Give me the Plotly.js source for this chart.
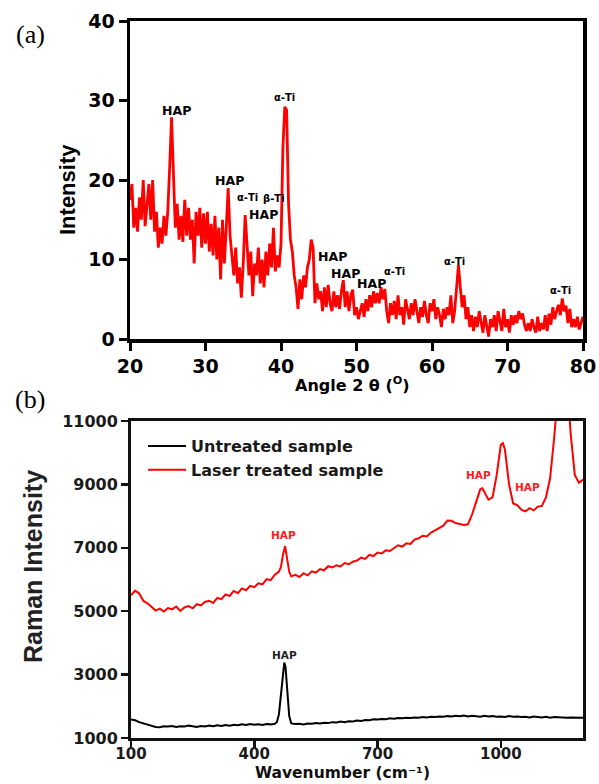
<!DOCTYPE html>
<html>
<head>
<meta charset="utf-8">
<script src="https://cdn.plot.ly/plotly-3.0.1.min.js"></script>
<style>html,body{margin:0;padding:0;background:#fff;}#chart{width:599px;height:784px;}</style>
</head>
<body>
<div id="chart"></div>
<script>
// ---------- (a) XRD data ----------
const xrdStart = 20;
const xrdStep = 0.25;
const xrdIntensity = [
  17.5, 19.5, 14.0, 16.5,
  13.5, 17.8, 15.0, 20.0,
  14.2, 17.0, 19.5, 15.0,
  20.0, 13.5, 16.0, 11.5,
  14.0, 12.0, 15.5, 13.0,
  16.0, 21.5, 27.9, 21.0,
  14.0, 17.0, 12.5, 15.5,
  12.2, 17.5, 13.0, 16.5,
  12.5, 15.0, 9.5, 16.0,
  13.0, 16.5, 11.5, 15.8,
  12.0, 16.0, 11.0, 14.5,
  10.5, 15.5, 10.0, 14.0,
  7.5, 15.0, 9.5, 14.0,
  19.0, 13.0, 10.5, 8.0,
  11.5, 7.0, 9.0, 5.2,
  9.5, 15.6, 12.0, 8.0,
  11.0, 5.4, 9.5, 8.0,
  11.5, 7.0, 10.0, 6.5,
  11.0, 8.0, 12.0, 9.0,
  14.0, 8.5, 10.5, 9.0,
  12.0, 24.0, 29.2, 28.8,
  17.0, 12.5, 11.0, 8.0,
  6.5, 3.8, 7.5, 5.0,
  8.0, 6.5, 9.0, 10.0,
  12.5, 11.5, 4.5, 7.0,
  5.0, 6.0, 3.5, 6.5,
  4.0, 6.8, 4.5, 3.5,
  6.0, 4.0, 5.5, 3.8,
  6.0, 7.4, 4.0, 6.0,
  3.5, 5.5, 6.2, 3.0,
  4.0, 2.5, 3.5, 4.5,
  2.8, 5.0, 3.5, 5.5,
  4.0, 6.0, 4.5, 5.8,
  4.5, 6.5, 5.0, 6.3,
  3.5, 2.0, 4.5, 3.0,
  4.8, 2.5, 5.5, 3.0,
  4.0, 1.8, 5.0, 3.5,
  2.5, 4.5, 3.0, 5.0,
  3.5, 2.0, 4.0, 2.8,
  4.8, 3.0, 2.0, 4.5,
  3.5, 5.0, 2.5, 4.0,
  3.0, 1.5, 3.8, 2.5,
  4.0, 3.0, 5.5, 2.0,
  3.5, 6.0, 9.3, 6.5,
  4.0, 5.5, 2.5, 4.0,
  1.5, 3.0, 1.0, 2.8,
  1.5, 3.5, 2.0, 0.8,
  3.0, 1.5, 0.3, 2.5,
  1.5, 3.0, 1.0, 3.5,
  2.0, 1.0, 3.8, 1.5,
  2.5, 0.8, 3.0, 1.8,
  3.0, 2.0, 3.5, 2.5,
  3.2, 1.8, 1.0, 2.0,
  1.0, 2.5, 1.5, 0.8,
  2.8, 1.0, 2.0, 1.2,
  3.0, 1.0, 3.2, 1.8,
  4.0, 2.5, 3.5, 4.3,
  3.0, 5.1, 3.5, 4.2,
  2.0, 3.8, 1.5, 2.5,
  1.5, 2.8, 1.2, 2.0,
  2.8
];
const xrdAngle = xrdIntensity.map((_, i) => xrdStart + i * xrdStep);

const xrdLabelText = ["HAP", "α-Ti", "HAP", "α-Ti", "β-Ti", "HAP", "HAP", "HAP", "HAP", "α-Ti", "α-Ti", "α-Ti"];
const xrdLabelX    = [26.1, 40.45, 33.2, 35.5, 39.1, 37.7, 46.8, 48.55, 51.96, 54.97, 63.03, 76.97];
const xrdLabelY    = [28.7, 30.4, 20.0, 17.8, 17.7, 15.7, 10.35, 8.26, 7.0, 8.47, 9.73, 6.08];

// ---------- (b) Raman data ----------
const ramanUntreatedX = [100,110,120,130,140,150,160,170,180,190,200,210,220,230,240,250,260,270,280,290,300,310,320,330,340,350,360,370,380,390,400,410,420,430,440,450,455,460,465,470,473,476,480,485,490,500,510,520,530,540,550,560,570,580,590,600,610,620,630,640,650,660,670,680,690,700,710,720,730,740,750,760,770,780,790,800,810,820,830,840,850,860,870,880,890,900,910,920,930,940,950,960,970,980,990,1000,1010,1020,1030,1040,1050,1060,1070,1080,1090,1100,1110,1120,1130,1140,1150,1160,1170,1180,1190,1200];
const ramanUntreatedY = [1580,1560,1500,1460,1420,1390,1350,1340,1370,1360,1380,1350,1370,1360,1390,1370,1350,1380,1360,1390,1370,1400,1380,1410,1390,1420,1400,1430,1410,1440,1420,1430,1410,1440,1430,1450,1500,1750,2400,3200,3380,3250,2500,1700,1460,1440,1450,1430,1460,1450,1470,1460,1480,1470,1500,1490,1520,1500,1530,1520,1550,1540,1570,1560,1590,1580,1600,1590,1620,1610,1630,1620,1640,1630,1650,1640,1660,1650,1670,1660,1680,1670,1690,1680,1700,1690,1710,1680,1700,1690,1670,1700,1680,1690,1670,1680,1660,1690,1670,1680,1660,1670,1650,1680,1660,1650,1670,1640,1660,1650,1660,1640,1650,1640,1650,1640];

const ramanLaserX = [100,110,120,130,140,150,160,170,180,190,200,210,220,230,240,250,260,270,280,290,300,310,320,330,340,350,360,370,380,390,400,410,420,430,440,450,460,465,470,475,480,485,490,500,510,520,530,540,550,560,570,580,590,600,610,620,630,640,650,660,670,680,690,700,710,720,730,740,750,760,770,780,790,800,810,820,830,840,850,860,870,880,890,900,910,920,930,940,950,955,960,970,980,990,1000,1005,1010,1020,1030,1040,1050,1060,1070,1080,1090,1100,1110,1120,1130,1140,1150,1160,1170,1180,1190,1200];
const ramanLaserY = [5500,5650,5560,5330,5250,5120,5020,5080,4990,5100,5060,5150,5010,5120,5160,5090,5220,5180,5290,5330,5260,5420,5380,5530,5480,5640,5570,5720,5660,5800,5760,5880,5850,6010,5980,6150,6250,6400,6800,7050,6600,6250,6100,6150,6080,6200,6130,6260,6220,6330,6290,6420,6380,6450,6410,6520,6480,6560,6600,6690,6650,6780,6740,6850,6820,6920,6900,6990,7080,7040,7140,7120,7260,7300,7380,7360,7480,7550,7620,7700,7860,7850,7780,7760,7720,7740,8050,8450,8850,8880,8750,8520,8600,9300,10250,10300,10100,9000,8400,8350,8200,8150,8250,8180,8300,8320,8600,9200,10500,12500,13500,12500,10600,9300,9050,9150];

const ramanLabelText = ["HAP", "HAP", "HAP", "HAP"];
const ramanLabelX    = [471, 946, 1064, 473];
const ramanLabelY    = [7414, 9298, 8929, 3619];
const ramanLabelColor = ["#ff1a1a", "#ff1a1a", "#ff1a1a", "#222222"];

// ---------- styling ----------
const wideBold = "DejaVu Sans, Verdana, sans-serif";
const arialBold = "Liberation Sans, Arial, sans-serif";

const traces = [
  { x: xrdAngle, y: xrdIntensity, xaxis: "x", yaxis: "y", type: "scatter", mode: "lines",
    line: { color: "#ff0000", width: 2.8 }, showlegend: false, hoverinfo: "skip" },
  { x: ramanUntreatedX, y: ramanUntreatedY, xaxis: "x2", yaxis: "y2", type: "scatter", mode: "lines",
    name: "Untreated sample", line: { color: "#000000", width: 2 } },
  { x: ramanLaserX, y: ramanLaserY, xaxis: "x2", yaxis: "y2", type: "scatter", mode: "lines",
    name: "Laser treated sample", line: { color: "#ff0000", width: 2 } }
];

const annotations = [];
xrdLabelText.forEach((t, i) => {
  const small = t !== "HAP";
  annotations.push({ x: xrdLabelX[i], y: xrdLabelY[i], xref: "x", yref: "y", text: t, showarrow: false,
    xanchor: "center", yanchor: "middle",
    font: { family: wideBold, size: small ? 10 : 12.5, color: "#000", weight: "bold" } });
});
ramanLabelText.forEach((t, i) => {
  annotations.push({ x: ramanLabelX[i], y: ramanLabelY[i], xref: "x2", yref: "y2", text: t, showarrow: false,
    xanchor: "center", yanchor: "middle",
    font: { family: wideBold, size: 10.5, color: ramanLabelColor[i], weight: "bold" } });
});
// axis titles and panel labels
annotations.push(
  { x: 68/599, y: 1 - 190/784, xref: "paper", yref: "paper", text: "Intensity", textangle: -90, showarrow: false,
    xanchor: "center", yanchor: "middle", font: { family: arialBold, size: 22, color: "#000", weight: "bold" } },
  { x: 352/599, y: 1 - 384/784, xref: "paper", yref: "paper", text: "Angle 2 θ (<sup>O</sup>)", showarrow: false,
    xanchor: "center", yanchor: "middle", font: { family: wideBold, size: 16, color: "#000", weight: "bold" } },
  { x: 33/599, y: 1 - 567/784, xref: "paper", yref: "paper", text: "Raman Intensity", textangle: -90, showarrow: false,
    xanchor: "center", yanchor: "middle", font: { family: arialBold, size: 25, color: "#222", weight: "bold" } },
  { x: 342/599, y: 1/784, xref: "paper", yref: "paper", text: "Wavenumber (cm⁻¹)", showarrow: false,
    xanchor: "center", yanchor: "bottom", borderpad: 0, font: { family: wideBold, size: 15.5, color: "#111", weight: "bold" } },
  { x: 30/599, y: 1 - 35/784, xref: "paper", yref: "paper", text: "(a)", showarrow: false,
    xanchor: "center", yanchor: "middle", font: { family: "Liberation Serif, Times New Roman, serif", size: 26, color: "#000" } },
  { x: 30/599, y: 1 - 399/784, xref: "paper", yref: "paper", text: "(b)", showarrow: false,
    xanchor: "center", yanchor: "middle", font: { family: "Liberation Serif, Times New Roman, serif", size: 26, color: "#000" } }
);

const axisA = {
  showline: true, linecolor: "#000", linewidth: 3.5, mirror: true,
  ticks: "outside", ticklen: 8, tickwidth: 3, tickcolor: "#000",
  showgrid: false, zeroline: false,
  tickfont: { family: wideBold, size: 19, color: "#000", weight: "bold" }
};
const axisB = {
  showline: true, linecolor: "#111", linewidth: 3, mirror: true,
  ticks: "outside", ticklen: 7, tickwidth: 2.5, tickcolor: "#111",
  showgrid: false, zeroline: false, tickformat: "d",
  tickfont: { family: wideBold, size: 16, color: "#1a1a1a", weight: "bold" }
};

const layout = {
  width: 599, height: 784,
  margin: { l: 0, r: 0, t: 0, b: 0 },
  paper_bgcolor: "#fff", plot_bgcolor: "#fff",
  xaxis: Object.assign({}, axisA, { domain: [130/599, 583/599], range: [20, 80], tickvals: [20,30,40,50,60,70,80], anchor: "y" }),
  yaxis: Object.assign({}, axisA, { domain: [1 - 339/784, 1 - 21/784], range: [0, 40], tickvals: [0,10,20,30,40], anchor: "x" }),
  xaxis2: Object.assign({}, axisB, { domain: [131/599, 583/599], range: [100, 1200], tickvals: [100,400,700,1000], anchor: "y2",
    ticklabelstandoff: -7, tickfont: { family: wideBold, size: 15, color: "#1a1a1a", weight: "bold" } }),
  yaxis2: Object.assign({}, axisB, { domain: [1 - 738/784, 1 - 421/784], range: [1000, 11000], tickvals: [1000,3000,5000,7000,9000,11000], anchor: "x2" }),
  showlegend: true,
  legend: { x: 143/599, y: 1 - 429/784, xanchor: "left", yanchor: "top", bgcolor: "rgba(0,0,0,0)",
    itemwidth: 38, tracegroupgap: 0,
    font: { family: wideBold, size: 16, color: "#1a1a1a", weight: "bold" } },
  annotations: annotations
};

Plotly.newPlot("chart", traces, layout, { staticPlot: true, displayModeBar: false });
</script>
</body>
</html>
